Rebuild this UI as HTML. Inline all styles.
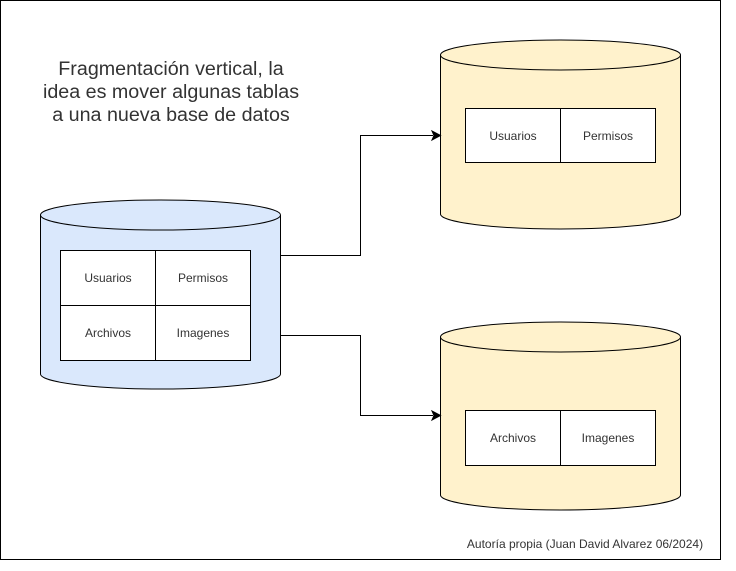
<!DOCTYPE html>
<html><head><meta charset="utf-8"><style>html,body{margin:0;padding:0;background:#fff}svg{display:block}</style></head>
<body>
<svg width="736" height="571" viewBox="0 0 736 571" xmlns="http://www.w3.org/2000/svg" font-family="Liberation Sans, Arial, sans-serif">
<rect x="0.5" y="0.5" width="720" height="559" fill="#fff" stroke="#000"/>
<g fill="#333" font-size="19.7" text-anchor="middle">
<text x="171" y="75">Fragmentación vertical, la</text>
<text x="171" y="98">idea es mover algunas tablas</text>
<text x="171" y="121">a una nueva base de datos</text>
</g>
<path d="M40.5 215 A120 15 0 0 1 280.5 215 L280.5 374 A120 15 0 0 1 40.5 374 Z" fill="#dae8fc" stroke="#000"/>
<path d="M40.5 215 A120 15 0 0 0 280.5 215" fill="none" stroke="#000"/>
<rect x="60.5" y="250.5" width="190" height="110" fill="#fff" stroke="#000"/>
<line x1="155.5" y1="250.5" x2="155.5" y2="360.5" stroke="#000"/>
<line x1="60.5" y1="305.5" x2="250.5" y2="305.5" stroke="#000"/>
<path d="M440.5 55 A120 15 0 0 1 680.5 55 L680.5 214 A120 15 0 0 1 440.5 214 Z" fill="#fff2cc" stroke="#000"/>
<path d="M440.5 55 A120 15 0 0 0 680.5 55" fill="none" stroke="#000"/>
<rect x="465.5" y="108.5" width="190" height="54" fill="#fff" stroke="#000"/>
<line x1="560.5" y1="108.5" x2="560.5" y2="162.5" stroke="#000"/>
<path d="M440.5 337 A120 15 0 0 1 680.5 337 L680.5 495 A120 15 0 0 1 440.5 495 Z" fill="#fff2cc" stroke="#000"/>
<path d="M440.5 337 A120 15 0 0 0 680.5 337" fill="none" stroke="#000"/>
<rect x="465.5" y="410.5" width="190" height="55" fill="#fff" stroke="#000"/>
<line x1="560.5" y1="410.5" x2="560.5" y2="465.5" stroke="#000"/>
<path d="M280.5 255.5 H360.5 V135.5 H433" fill="none" stroke="#000"/>
<path d="M440.5 135.5 L432 131 L434 135.5 L432 140 Z" fill="#000" stroke="#000"/>
<path d="M280.5 335.5 H360.5 V415.5 H433" fill="none" stroke="#000"/>
<path d="M440.5 415.5 L432 411 L434 415.5 L432 420 Z" fill="#000" stroke="#000"/>
<g fill="#333" font-size="12" text-anchor="middle">
<text x="108" y="282">Usuarios</text>
<text x="203" y="282">Permisos</text>
<text x="108" y="337">Archivos</text>
<text x="203" y="337">Imagenes</text>
<text x="513" y="140">Usuarios</text>
<text x="608" y="140">Permisos</text>
<text x="513" y="442">Archivos</text>
<text x="608" y="442">Imagenes</text>
</g>
<text x="585" y="548" fill="#333" font-size="12" text-anchor="middle">Autoría propia (Juan David Alvarez 06/2024)</text>
</svg>
</body></html>
